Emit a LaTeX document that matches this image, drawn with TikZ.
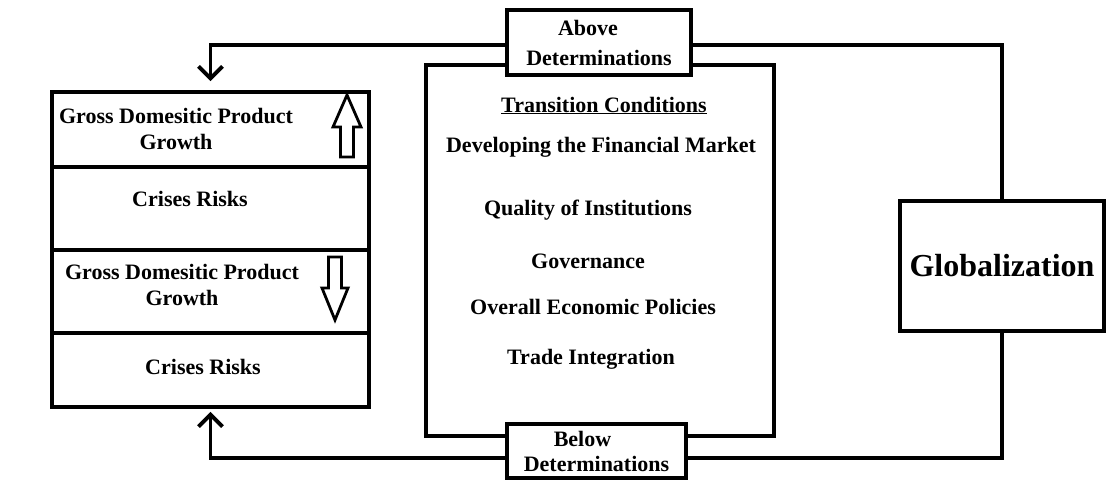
\documentclass[tikz,border=0pt]{standalone}
\usepackage{fontspec}
\setmainfont{Liberation Serif}
\usetikzlibrary{arrows.meta}
\begin{document}
\begin{tikzpicture}[x=1pt,y=-1pt,
  box/.style={draw,line width=3.8pt,rectangle,inner sep=0pt,fill=white},
  lbl/.style={font=\bfseries\fontsize{22}{26}\selectfont,align=center,inner sep=0pt},
  lblb/.style={lbl,anchor=base},
  conn/.style={line width=3.8pt},
  barb/.style={conn,-{Straight Barb[length=12pt,width=24pt]}},
  hollow/.style={line width=2.8pt,line join=miter}]
\useasboundingbox (0,0) rectangle (1108,485);
% left stack
\node[box,minimum width=317pt,minimum height=75pt] (c1) at (210.5,129.5) {};
\node[box,minimum width=317pt,minimum height=83pt] (c2) at (210.5,208.5) {};
\node[box,minimum width=317pt,minimum height=83pt] (c3) at (210.5,291.5) {};
\node[box,minimum width=317pt,minimum height=74pt] (c4) at (210.5,370) {};
\node[lbl] (g1) at (176,129) {Gross Domesitic Product\\Growth};
\node[lblb] (r1) at (190,206) {Crises Risks};
\node[lbl] (g2) at (182,285) {Gross Domesitic Product\\Growth};
\node[lblb] (r2) at (203,374) {Crises Risks};
% hollow arrows
\draw[hollow] (347,95) -- (361,127) -- (353.5,127) -- (353.5,157) -- (340.5,157) -- (340.5,127) -- (333,127) -- cycle;
\draw[hollow] (328.5,257) -- (341.5,257) -- (341.5,288) -- (348,288) -- (335,320) -- (322,288) -- (328.5,288) -- cycle;
% central box
\node[box,minimum width=348pt,minimum height=371pt] (cen) at (600,250.5) {};
\node[lblb] (tc) at (604,112) {\underline{Transition Conditions}};
\node[lblb] (t1) at (601,152) {Developing the Financial Market};
\node[lblb] (t2) at (588,215) {Quality of Institutions};
\node[lblb] (t3) at (588,268) {Governance};
\node[lblb] (t4) at (593,314) {Overall Economic Policies};
\node[lblb] (t5) at (591,364) {Trade Integration};
% above / below
\node[box,minimum width=184pt,minimum height=65pt,
  font=\bfseries\fontsize{22}{30}\selectfont,align=center] (above) at (599,42.5)
  {\hspace*{-22pt}Above\\Determinations};
\node[box,minimum width=179pt,minimum height=54pt,
  font=\bfseries\fontsize{22}{25}\selectfont,align=center] (below) at (596.5,451)
  {\hspace*{-28pt}Below\\Determinations};
% globalization
\node[box,minimum width=204pt,minimum height=130pt,
  font=\bfseries\fontsize{32}{38}\selectfont] (glob) at (1002,266) {Globalization};
% connectors
\draw[barb] ([yshift=-2.5pt]above.west) -| ([yshift=9pt]c1.north);
\draw[conn] ([yshift=-2.5pt]above.east) -| (glob.north);
\draw[conn] (glob.south) |- ([yshift=-7pt]below.east);
\draw[barb] ([yshift=-7pt]below.west) -| ([yshift=-3pt]c4.south);
\end{tikzpicture}
\end{document}
